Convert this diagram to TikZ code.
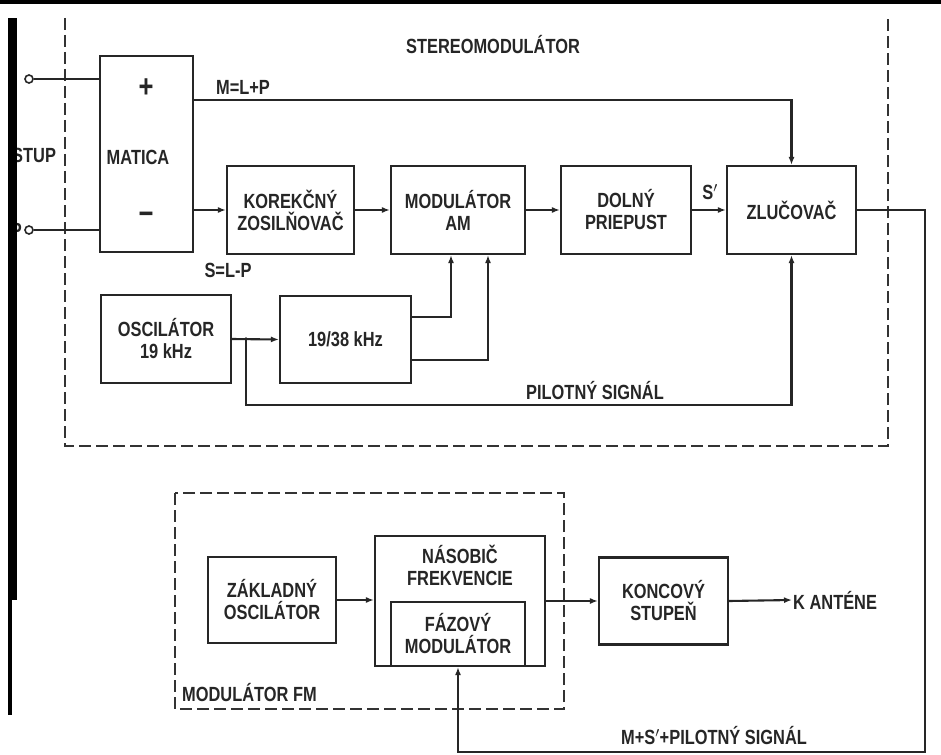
\documentclass[tikz,border=0pt]{standalone}
\usepackage{fontspec}
\setmainfont[FakeStretch=0.8]{Liberation Sans}
\usetikzlibrary{arrows.meta,calc}
\begin{document}
\begin{tikzpicture}[x=1pt,y=-1pt,
  ink/.style={draw=black!85,line width=2.1pt},
  txt/.style={font=\fontsize{20.5}{22}\selectfont\bfseries,text=black!85},
  blk/.style={ink,rectangle,inner sep=0pt,align=center,txt},
  arr/.style={ink,-{Latex[length=8pt,width=6pt]}},
  wire/.style={ink},
  frame/.style={draw=black!80,line width=2pt,dash pattern=on 12pt off 5pt},
  lbl/.style={inner sep=1pt,align=center,txt},
  term/.style={circle,ink,line width=1.6pt,inner sep=0pt,minimum size=8pt,fill=white}]
\useasboundingbox (0,0) rectangle (941,754);
\fill[white] (0,0) rectangle (941,754);

% frames
\draw[frame] (65,18) -- (65,446) -- (888,446) -- (888,18);
\draw[frame] (175,493) rectangle (564,709);
\node[lbl] (tstereo) at (493,45) {STEREOMODULÁTOR};
\node[lbl,anchor=west] (tfm) at (181,693) {MODULÁTOR FM};

% blocks
\node[blk,minimum width=93pt,minimum height=196pt] (matica) at (146.5,154) {};
\node[lbl] (mplus) at (146,88) {\fontsize{32}{32}\selectfont +};
\node[lbl] (mname) at (138,157) {MATICA};
\node[lbl] (mminus) at (146,218) {\fontsize{32}{32}\selectfont −};
\node[blk,minimum width=127pt,minimum height=88pt] (korek) at (290.5,210) {KOREKČNÝ\\ZOSILŇOVAČ};
\node[blk,minimum width=134pt,minimum height=88pt] (modam) at (458,210) {MODULÁTOR\\AM};
\node[blk,minimum width=130pt,minimum height=88pt] (dolny) at (626,210) {DOLNÝ\\PRIEPUST};
\node[blk,minimum width=129pt,minimum height=88pt] (zluc) at (791.5,210) {ZLUČOVAČ};
\node[blk,minimum width=130pt,minimum height=88pt] (osc) at (166,339) {OSCILÁTOR\\19 kHz};
\node[blk,minimum width=131pt,minimum height=87pt] (div) at (345.5,339.5) {19/38 kHz};

\node[blk,minimum width=128pt,minimum height=86pt] (zakl) at (272,600) {ZÁKLADNÝ\\OSCILÁTOR};
\node[blk,minimum width=170pt,minimum height=130pt] (nasob) at (460,601) {};
\node[lbl] (tnasob) at (460,565) {NÁSOBIČ\\FREKVENCIE};
\node[blk,minimum width=134pt,minimum height=64pt] (fazov) at (458,634) {FÁZOVÝ\\MODULÁTOR};
\node[blk,minimum width=129pt,minimum height=87pt] (konc) at (663.5,601) {KONCOVÝ\\STUPEŇ};
\node[lbl,anchor=west] (ant) at (792,600) {K ANTÉNE};

% inputs
\node[lbl,anchor=west] (tstup) at (11,155) {STUP};
\node[lbl,anchor=east] (tp) at (23,230) {P};
\node[term] (in1) at (29,79) {};
\node[term] (in2) at (29,230) {};
\draw[wire] (in1) -- (matica.west |- in1);
\draw[wire] (in2) -- (matica.west |- in2);

% signal paths
\coordinate (mrow) at (0,100);
\draw[arr] (matica.east |- mrow) -| (zluc.north);
\node[lbl] (tm) at (243,87) {M=L+P};
\draw[arr] (matica.east |- korek.west) -- (korek.west);
\node[lbl] (ts) at (228,270) {S=L-P};
\draw[arr] (korek.east) -- (modam.west);
\draw[arr] (modam.east) -- (dolny.west);
\draw[arr] (dolny.east) -- (zluc.west);
\node[lbl] (tsp) at (710,192) {S$'$};

\coordinate (jn) at (246,339);
\draw[arr] (osc.east) -- (div.west);
\coordinate (prow) at (0,405);
\draw[arr] (jn) -- (jn |- prow) -| (zluc.south);
\fill[black!85] (jn) circle (1.8pt);
\node[lbl] (tpil) at (595,391) {PILOTNÝ SIGNÁL};

\coordinate (u1) at (451,317);
\coordinate (u2) at (488,360);
\draw[arr] (div.east |- u1) -- (u1) -- (u1 |- modam.south);
\draw[arr] (div.east |- u2) -- (u2) -- (u2 |- modam.south);

\coordinate (rc) at (925,752);
\draw[arr] (zluc.east) -| (rc) -| (fazov.south);
\node[lbl] (tsum) at (714,736) {M+S$'$+PILOTNÝ SIGNÁL};

\draw[arr] (zakl.east) -- (nasob.west |- zakl.east);
\draw[arr] (nasob.east |- konc.west) -- (konc.west);
\draw[arr] (konc.east) -- (ant.west);

% scan edges
\fill[black] (0,0) rectangle (941,4);
\fill[black] (8,18) rectangle (17,600);
\fill[black] (8,600) rectangle (12,715);
\end{tikzpicture}
\end{document}
